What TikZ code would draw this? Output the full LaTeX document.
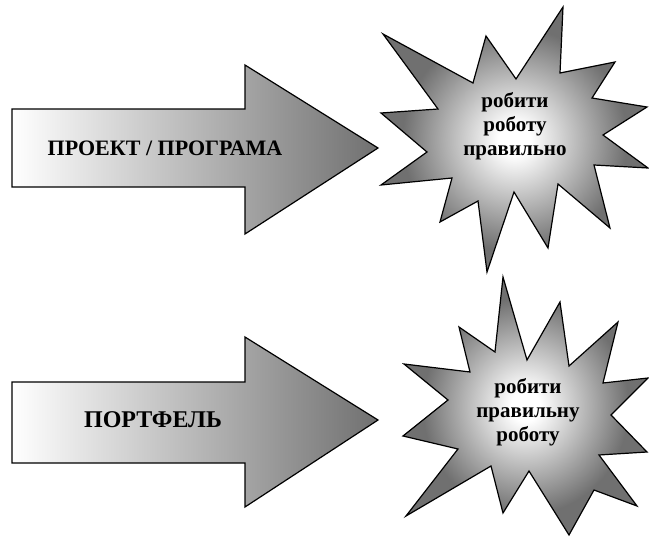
\documentclass[tikz,border=0pt]{standalone}
\usepackage{fontspec}
\setmainfont{Liberation Serif}
\pgfdeclareradialshading{starburst}{\pgfpoint{0bp}{0bp}}{color(0bp)=(white); color(3bp)=(white); color(21bp)=(black!56); color(50bp)=(black!56)}
\begin{document}
\begin{tikzpicture}[x=1pt,y=-1pt,
  outline/.style={draw=black, line width=1.2pt, line join=miter},
  arrowshape/.style={outline, left color=white, right color=black!56},
  starshape/.style={outline, shading=starburst},
  lbl/.style={font=\fontsize{21}{24}\selectfont\bfseries, align=center, inner sep=0pt, text=black}]
\useasboundingbox (0,0) rectangle (649,538);
% arrow 1
\shade[arrowshape] (12,109) -- (245,109) -- (245,65) -- (378,148) -- (245,234) -- (245,187) -- (12,187) -- cycle;
\node[lbl, font=\fontsize{22}{26}\selectfont\bfseries] (proj) at (165,148) {ПРОЕКТ / ПРОГРАМА};
% arrow 2
\shade[arrowshape] (12,382) -- (245,382) -- (245,337) -- (378,420) -- (245,507) -- (245,463) -- (12,463) -- cycle;
\node[lbl, font=\fontsize{24}{28}\selectfont\bfseries] (port) at (153,420) {ПОРТФЕЛЬ};
% star 1
\shade[starshape] (383,34) -- (473,83) -- (486,36) -- (516,79) -- (563,7) -- (560,73) -- (615,62) -- (592,98) -- (647,107) -- (603,135) -- (648,168) -- (594,165) -- (610,228) -- (558,184) -- (548,248) -- (514,192) -- (487,272) -- (478,201) -- (440,222) -- (452,178) -- (381,185) -- (427,152) -- (381,113) -- (438,109) -- cycle;
\node[lbl] (s1) at (515,126) {робити\\роботу\\правильно};
% star 2
\shade[starshape] (503,277) -- (527,360) -- (560,302) -- (569,366) -- (618,322) -- (603,383) -- (648,378) -- (611,415) -- (647,452) -- (599,455) -- (637,506) -- (594,490) -- (569,535) -- (529,471) -- (503,513) -- (491,466) -- (406,516) -- (458,449) -- (403,436) -- (448,400) -- (404,364) -- (470,372) -- (459,327) -- (495,352) -- cycle;
\node[lbl] (s2) at (528,412) {робити\\правильну\\роботу};
\end{tikzpicture}
\end{document}
